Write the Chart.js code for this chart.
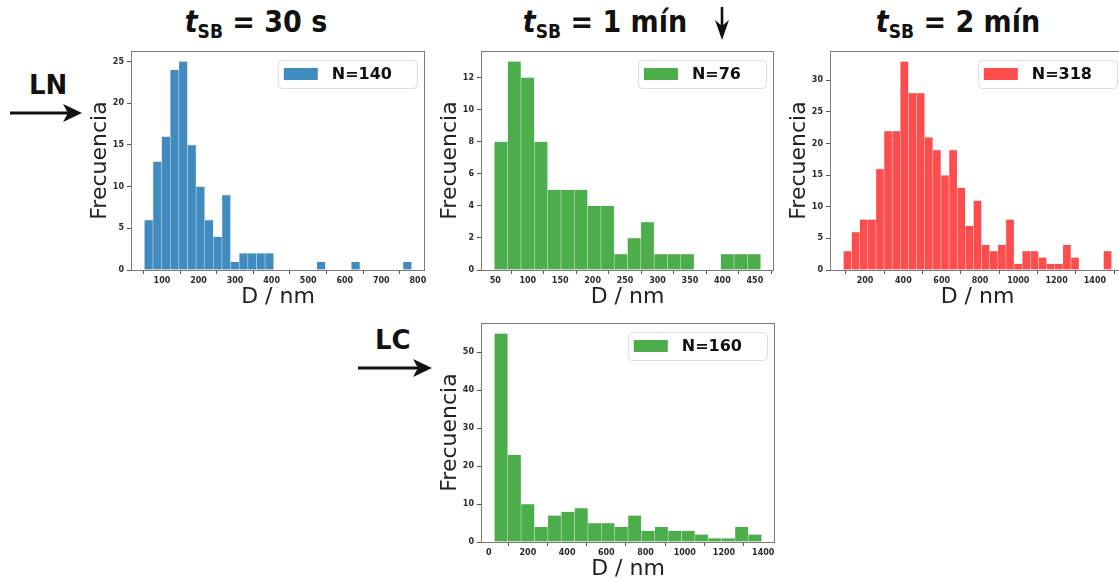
<!DOCTYPE html>
<html>
<head>
<meta charset="utf-8">
<script src="https://cdn.jsdelivr.net/npm/chart.js@4.4.1/dist/chart.umd.min.js"></script>
<style>
  html, body { margin: 0; padding: 0; background: #fff; }
  body { width: 1119px; height: 578px; position: relative; overflow: hidden; }
  canvas { position: absolute; }
  .ttl {
    position: absolute; top: 4px; transform: translateX(-50%);
    font-family: "DejaVu Sans Condensed", "DejaVu Sans", sans-serif;
    font-weight: bold; font-size: 30px; color: #111; white-space: nowrap;
  }
  .ttl sub { font-size: 19px; vertical-align: -6px; }
  .tag {
    position: absolute; font-family: "DejaVu Sans", sans-serif;
    font-weight: bold; font-size: 26px; color: #111;
  }
  svg { position: absolute; left: 0; top: 0; }
</style>
</head>
<body>
<div class="ttl" style="left:256px"><i>t</i><sub>SB</sub> = 30 s</div>
<div class="ttl" style="left:605px"><i>t</i><sub>SB</sub> = 1 mín</div>
<div class="ttl" style="left:958px"><i>t</i><sub>SB</sub> = 2 mín</div>
<div class="tag" style="left:29px;top:70px">LN</div>
<div class="tag" style="left:375px;top:325px">LC</div>

<svg width="1119" height="578">
  <!-- LN arrow -->
  <line x1="10" y1="113" x2="70" y2="113" stroke="#111" stroke-width="3"/>
  <path d="M82,113 L63,104 L68,113 L63,122 Z" fill="#111"/>
  <!-- LC arrow -->
  <line x1="358" y1="368" x2="420" y2="368" stroke="#111" stroke-width="3"/>
  <path d="M432,368 L413,359 L418,368 L413,377 Z" fill="#111"/>
  <!-- down arrow next to 1 min -->
  <line x1="722" y1="7" x2="722" y2="28" stroke="#111" stroke-width="2.6"/>
  <path d="M722,40 L715,20 L722,26 L729,20 Z" fill="#111"/>
</svg>

<canvas id="c1"></canvas>
<canvas id="c2"></canvas>
<canvas id="c3"></canvas>
<canvas id="c4"></canvas>

<script>
// --- data: histogram counts per bin ---
const countsLN30s = [6, 13, 16, 24, 25, 15, 10, 6, 4, 9, 1, 2, 2, 2, 2, 0, 0, 0, 0, 0, 1, 0, 0, 0, 1, 0, 0, 0, 0, 0, 1];
const countsLN1min = [8, 13, 12, 8, 5, 5, 5, 4, 4, 1, 2, 3, 1, 1, 1, 0, 0, 1, 1, 1];
const countsLN2min = [3, 6, 8, 8, 16, 22, 22, 33, 28, 28, 21, 19, 15, 19, 13, 7, 11, 4, 3, 4, 8, 1, 3, 3, 2, 1, 1, 4, 2, 0, 0, 0, 3];
const countsLC1min = [55, 23, 10, 4, 7, 8, 9, 5, 5, 4, 7, 3, 4, 3, 3, 2, 1, 1, 4, 2];

// bin range [first edge, last edge] in nm
const rangeLN30s = [52, 783];
const rangeLN1min = [48.5, 459];
const rangeLN2min = [87, 1487];
const rangeLC1min = [29, 1392];

// tick labels
const xTicksLN30s = [100, 200, 300, 400, 500, 600, 700, 800];
const yTicksLN30s = [0, 5, 10, 15, 20, 25];
const xTicksLN1min = [50, 100, 150, 200, 250, 300, 350, 400, 450];
const yTicksLN1min = [0, 2, 4, 6, 8, 10, 12];
const xTicksLN2min = [200, 400, 600, 800, 1000, 1200, 1400];
const yTicksLN2min = [0, 5, 10, 15, 20, 25, 30];
const xTicksLC1min = [0, 200, 400, 600, 800, 1000, 1200, 1400];
const yTicksLC1min = [0, 10, 20, 30, 40, 50];

const legendLabels = ['N=140', 'N=76', 'N=318', 'N=160'];

const BLUE = 'rgba(31,119,180,0.85)';
const GREEN = 'rgba(44,160,44,0.85)';
const RED = 'rgba(255,0,0,0.7)';

// y-axis box width, x-axis box height (canvas around each frame)
const YBOX = 50, XBOX = 42, PADT = 10, PADR = 10;

function histPoints(counts, range) {
    const w = (range[1] - range[0]) / counts.length;
    return counts.map((c, i) => ({ x: range[0] + w * (i + 0.5), y: c }));
}

function makeHist(id, frame, counts, range, xTicks, yTicks, color, label) {
    const cv = document.getElementById(id);
    cv.width = frame.w + YBOX + PADR;
    cv.height = frame.h + PADT + XBOX;
    cv.style.left = (frame.left - YBOX) + 'px';
    cv.style.top = (frame.top - PADT) + 'px';

    const span = range[1] - range[0];
    const ymax = Math.max(...counts) * 1.05;

    const framePlugin = {
        id: 'frame',
        afterDraw(chart) {
            const { ctx, chartArea: a } = chart;
            ctx.save();
            ctx.strokeStyle = '#7a7a7a';
            ctx.lineWidth = 1;
            ctx.strokeRect(a.left + 0.5, a.top + 0.5, a.right - a.left - 1, a.bottom - a.top);

            // matplotlib-like legend inside the axes (upper right)
            ctx.font = 'bold 16px "DejaVu Sans"';
            const tw = ctx.measureText(label).width;
            const bw = 6 + 34 + 14 + tw + 25, bh = 28;
            const bx = a.right - 8 - bw, by = a.top + 9;
            ctx.beginPath();
            ctx.roundRect(bx + 0.5, by + 0.5, bw, bh, 4);
            ctx.fillStyle = 'rgba(255,255,255,0.85)';
            ctx.fill();
            ctx.strokeStyle = '#dcdcdc';
            ctx.stroke();
            ctx.fillStyle = color;
            ctx.fillRect(bx + 6, by + 8, 34, 12);
            ctx.fillStyle = '#111';
            ctx.textBaseline = 'middle';
            ctx.fillText(label, bx + 54, by + bh / 2 + 1);
            ctx.restore();
        }
    };

    new Chart(cv, {
        type: 'bar',
        data: {
            datasets: [{
                data: histPoints(counts, range),
                backgroundColor: color,
                borderColor: 'rgba(0,0,0,0.08)',
                borderWidth: 0.6,
                barPercentage: 1,
                categoryPercentage: 1
            }]
        },
        options: {
            responsive: false,
            animation: false,
            devicePixelRatio: 1,
            layout: { padding: { top: PADT, right: PADR, left: 0, bottom: 0 } },
            plugins: { legend: { display: false }, tooltip: { enabled: false } },
            scales: {
                x: {
                    type: 'linear',
                    offset: false,
                    min: range[0] - span * 0.05,
                    max: range[1] + span * 0.05,
                    afterBuildTicks: s => { s.ticks = xTicks.map(v => ({ value: v })); },
                    afterFit: s => { s.height = XBOX; },
                    grid: { drawOnChartArea: false, drawTicks: true, tickLength: 4, tickColor: '#555' },
                    border: { display: false },
                    ticks: {
                        autoSkip: false, maxRotation: 0, padding: 2, color: '#2a2a2a',
                        font: { family: 'DejaVu Sans', size: 8, weight: 'bold' },
                        callback: v => String(v)
                    },
                    title: {
                        display: true, text: 'D / nm', color: '#222',
                        font: { family: 'DejaVu Sans', size: 22 },
                        padding: { top: 0, bottom: 2 }
                    }
                },
                y: {
                    min: 0,
                    max: ymax,
                    afterBuildTicks: s => { s.ticks = yTicks.map(v => ({ value: v })); },
                    afterFit: s => { s.width = YBOX; },
                    grid: { drawOnChartArea: false, drawTicks: true, tickLength: 4, tickColor: '#555' },
                    border: { display: false },
                    ticks: {
                        autoSkip: false, padding: 3, color: '#2a2a2a',
                        font: { family: 'DejaVu Sans', size: 8, weight: 'bold' },
                        callback: v => String(v)
                    },
                    title: {
                        display: true, text: 'Frecuencia', color: '#222',
                        font: { family: 'DejaVu Sans', size: 22 },
                        padding: { top: 6, bottom: 0 }
                    }
                }
            }
        },
        plugins: [framePlugin]
    });
}

makeHist('c1', { left: 131, top: 51, w: 294, h: 219 }, countsLN30s, rangeLN30s, xTicksLN30s, yTicksLN30s, BLUE, legendLabels[0]);
makeHist('c2', { left: 481, top: 51, w: 293, h: 219 }, countsLN1min, rangeLN1min, xTicksLN1min, yTicksLN1min, GREEN, legendLabels[1]);
makeHist('c3', { left: 830, top: 51, w: 295, h: 219 }, countsLN2min, rangeLN2min, xTicksLN2min, yTicksLN2min, RED, legendLabels[2]);
makeHist('c4', { left: 481, top: 323, w: 294, h: 219 }, countsLC1min, rangeLC1min, xTicksLC1min, yTicksLC1min, GREEN, legendLabels[3]);
</script>
</body>
</html>
